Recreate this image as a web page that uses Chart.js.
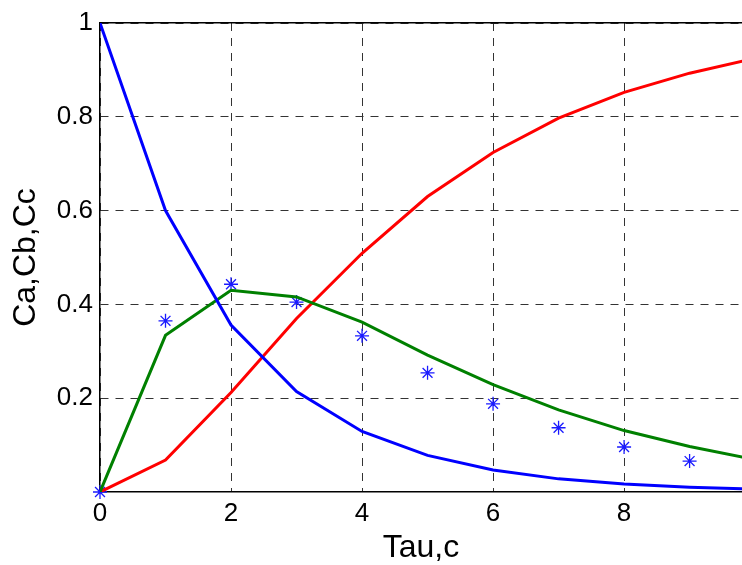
<!DOCTYPE html>
<html>
<head>
<meta charset="utf-8">
<script src="https://cdn.jsdelivr.net/npm/chart.js@4/dist/chart.umd.min.js"></script>
<style>
  html, body { margin: 0; padding: 0; background: #fff; }
  #wrap { width: 742px; height: 565px; }
</style>
</head>
<body>
<div id="wrap"><canvas id="chart"></canvas></div>
<script>
// tau values (x)
const tau = [0, 1, 2, 3, 4, 5, 6, 7, 8, 9, 10];
// concentrations
const ca = [1, 0.6, 0.356, 0.214, 0.129, 0.078, 0.047, 0.028, 0.017, 0.010, 0.006];
const cb = [0, 0.334, 0.430, 0.416, 0.362, 0.292, 0.229, 0.175, 0.131, 0.097, 0.069];
const cc = [0, 0.068, 0.212, 0.370, 0.509, 0.630, 0.724, 0.797, 0.852, 0.893, 0.925];
// measured points (blue stars)
const cbExp = [0, 0.365, 0.443, 0.405, 0.333, 0.254, 0.188, 0.137, 0.096, 0.066];
const xTicks = [0, 2, 4, 6, 8];
const yTicks = [0.2, 0.4, 0.6, 0.8, 1];

const FONT = '"Liberation Sans", Arial, Helvetica, sans-serif';

function pts(xs, ys) {
    return ys.map((y, i) => ({x: xs[i], y: y}));
}

function lineSet(data, color) {
    return {
        type: 'line',
        data: pts(tau, data),
        borderColor: color,
        borderWidth: 3,
        pointRadius: 0,
        fill: false,
        tension: 0
    };
}

// no automatic label padding, plot box is fixed
function fixX(s, h) {
    s.height = h;
    s.paddingLeft = 0;
    s.paddingRight = 0;
}

new Chart(document.getElementById('chart'), {
    type: 'line',
    data: {
        datasets: [
            lineSet(ca, '#0000ff'),
            lineSet(cb, '#008000'),
            lineSet(cc, '#ff0000'),
            {
                type: 'scatter',
                data: pts(tau, cbExp),
                showLine: false,
                pointStyle: 'star',
                pointRadius: 7,
                borderWidth: 1.3,
                borderColor: '#1a1aff',
                backgroundColor: '#1a1aff',
                clip: false
            }
        ]
    },
    options: {
        responsive: true,
        maintainAspectRatio: false,
        animation: false,
        layout: { autoPadding: false, padding: { top: 23, right: 0, left: 0, bottom: 0 } },
        plugins: { legend: { display: false }, tooltip: { enabled: false } },
        scales: {
            x: {
                type: 'linear',
                min: 0,
                max: 9.8,
                afterBuildTicks: s => { s.ticks = xTicks.map(v => ({value: v})); },
                afterFit: s => fixX(s, 73),
                ticks: { color: '#000', padding: 6, font: { family: FONT, size: 26 } },
                grid: { color: '#333', lineWidth: 1, drawTicks: false },
                border: { display: true, color: '#000', width: 1.5, dash: [8, 7] },
                title: {
                    display: true, text: 'Tau,c', color: '#000',
                    font: { family: FONT, size: 32, lineHeight: 1 }, padding: { top: 0, bottom: 1 }
                }
            },
            x2: {
                type: 'linear',
                position: 'top',
                min: 0,
                max: 9.8,
                afterFit: s => fixX(s, 0),
                ticks: { display: false },
                grid: { display: false },
                border: { display: true, color: '#000', width: 1.5 }
            },
            y: {
                min: 0,
                max: 1,
                afterBuildTicks: s => { s.ticks = yTicks.map(v => ({value: v})); },
                afterFit: s => { s.width = 100; s.paddingTop = 0; s.paddingBottom = 0; },
                ticks: { color: '#000', padding: 7, font: { family: FONT, size: 26 },
                    callback: v => String(v) },
                grid: { color: '#333', lineWidth: 1, drawTicks: false },
                border: { display: true, color: '#000', width: 1.5, dash: [8, 7] },
                title: {
                    display: true, text: 'Ca,Cb,Cc', color: '#000',
                    font: { family: FONT, size: 32, lineHeight: 1.2 }, padding: { top: 7, bottom: 0 }
                }
            }
        }
    }
});
</script>
</body>
</html>
